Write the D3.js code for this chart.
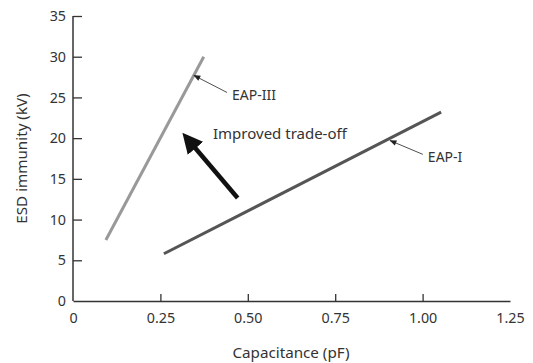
<!DOCTYPE html>
<html lang="en">
<head>
<meta charset="UTF-8">
<title>ESD immunity vs capacitance</title>
<script src="https://d3js.org/d3.v7.min.js"></script>
<style>
    body { margin: 0; background: #fff; font-family: "Noto Sans", sans-serif; }
    .tick text { font-size: 14.3px; fill: #333; font-family: "Noto Sans", sans-serif; }
</style>
</head>
<body>
<svg id="chart" width="533" height="363"></svg>
<script>
    // data
    let seriesNames = ["EAP-III", "EAP-I"]
    let capStart = [0.094, 0.26]
    let capEnd = [0.374, 1.053]
    let esdStart = [7.5, 5.8]
    let esdEnd = [30.0, 23.2]
    let seriesColors = ["#999999", "#555555"]
    // labels: point on line the pointer hits, and where the text sits
    let labelTipCap = [0.346, 0.907]
    let labelTipEsd = [27.7, 19.7]
    let labelTextCap = [0.455, 1.015]
    let labelTextEsd = [25.3, 17.7]
    // "improved trade-off" arrow
    let bigArrowCap = [0.471, 0.32]
    let bigArrowEsd = [12.65, 20.3]
    let xTicks = [0, 0.25, 0.5, 0.75, 1.0, 1.25]
    let yTicks = [0, 5, 10, 15, 20, 25, 30, 35]

    let svg = d3.select("#chart")
    let margin = { left: 73, right: 23, top: 16, bottom: 62 }
    let width = 533, height = 363

    let x = d3.scaleLinear().domain([0, 1.25]).range([margin.left, width - margin.right])
    let y = d3.scaleLinear().domain([0, 35]).range([height - margin.bottom, margin.top])

    let defs = svg.append("defs")
    defs.append("marker").attr("id", "small")
        .attr("viewBox", "0 0 10 10").attr("refX", 9).attr("refY", 5)
        .attr("markerWidth", 9).attr("markerHeight", 7).attr("orient", "auto")
        .attr("markerUnits", "userSpaceOnUse")
        .append("path").attr("d", "M0,1 L10,5 L0,9 Z").attr("fill", "#222")
    defs.append("marker").attr("id", "big")
        .attr("viewBox", "0 0 10 10").attr("refX", 2).attr("refY", 5)
        .attr("markerWidth", 4.5).attr("markerHeight", 4.5).attr("orient", "auto")
        .append("path").attr("d", "M0,0 L10,5 L0,10 Z").attr("fill", "#111")

    // axes, ticks pointing inward
    let xAxis = svg.append("g").attr("transform", `translate(0,${y(0)})`)
        .call(d3.axisBottom(x).tickValues(xTicks).tickSizeInner(-7).tickSizeOuter(0).tickPadding(12)
            .tickFormat(d => d === 0 ? "0" : d3.format(".2f")(d)))
    let yAxis = svg.append("g").attr("transform", `translate(${x(0)},0)`)
        .call(d3.axisLeft(y).tickValues(yTicks).tickSizeInner(-9).tickSizeOuter(0).tickPadding(7))
    xAxis.selectAll(".tick").filter(d => d === 0 || d === 1.25).select("line").remove()
    yAxis.selectAll(".tick").filter(d => d === 0).select("line").remove()
    svg.selectAll(".domain").attr("stroke", "#333").attr("stroke-width", 1.5)
    svg.selectAll(".tick line").attr("stroke", "#333").attr("stroke-width", 1.3)
    // y axis runs to the top tick
    yAxis.select(".domain").attr("d", `M0,${y(35)}V${y(0)}`)

    // series lines
    seriesNames.forEach((name, i) => {
        svg.append("line")
            .attr("x1", x(capStart[i])).attr("y1", y(esdStart[i]))
            .attr("x2", x(capEnd[i])).attr("y2", y(esdEnd[i]))
            .attr("stroke", seriesColors[i]).attr("stroke-width", 3)

        svg.append("line")
            .attr("x1", x(labelTextCap[i]) - 5).attr("y1", y(labelTextEsd[i]) - 2.5)
            .attr("x2", x(labelTipCap[i])).attr("y2", y(labelTipEsd[i]))
            .attr("stroke", "#222").attr("stroke-width", 0.8)
            .attr("marker-end", "url(#small)")

        svg.append("text")
            .attr("x", x(labelTextCap[i])).attr("y", y(labelTextEsd[i]))
            .attr("dy", "0.35em")
            .attr("font-size", 14).attr("fill", "#333")
            .text(name)
    })

    // improved trade-off arrow
    svg.append("line")
        .attr("x1", x(bigArrowCap[0])).attr("y1", y(bigArrowEsd[0]))
        .attr("x2", x(bigArrowCap[1]) + 8).attr("y2", y(bigArrowEsd[1]) + 9.5)
        .attr("stroke", "#111").attr("stroke-width", 4.5)
        .attr("marker-end", "url(#big)")

    svg.append("text")
        .attr("x", 213).attr("y", y(20.6))
        .attr("dy", "0.35em")
        .attr("font-size", 15).attr("fill", "#333")
        .text("Improved trade-off")

    // axis titles
    svg.append("text")
        .attr("x", 291).attr("y", 353)
        .attr("dy", "0.35em")
        .attr("text-anchor", "middle").attr("font-size", 15.2).attr("fill", "#333")
        .text("Capacitance (pF)")

    svg.append("text")
        .attr("transform", `translate(22,${(y(0) + y(35)) / 2}) rotate(-90)`)
        .attr("dy", "0.35em")
        .attr("text-anchor", "middle").attr("font-size", 15.2).attr("fill", "#333")
        .text("ESD immunity (kV)")
</script>
</body>
</html>
